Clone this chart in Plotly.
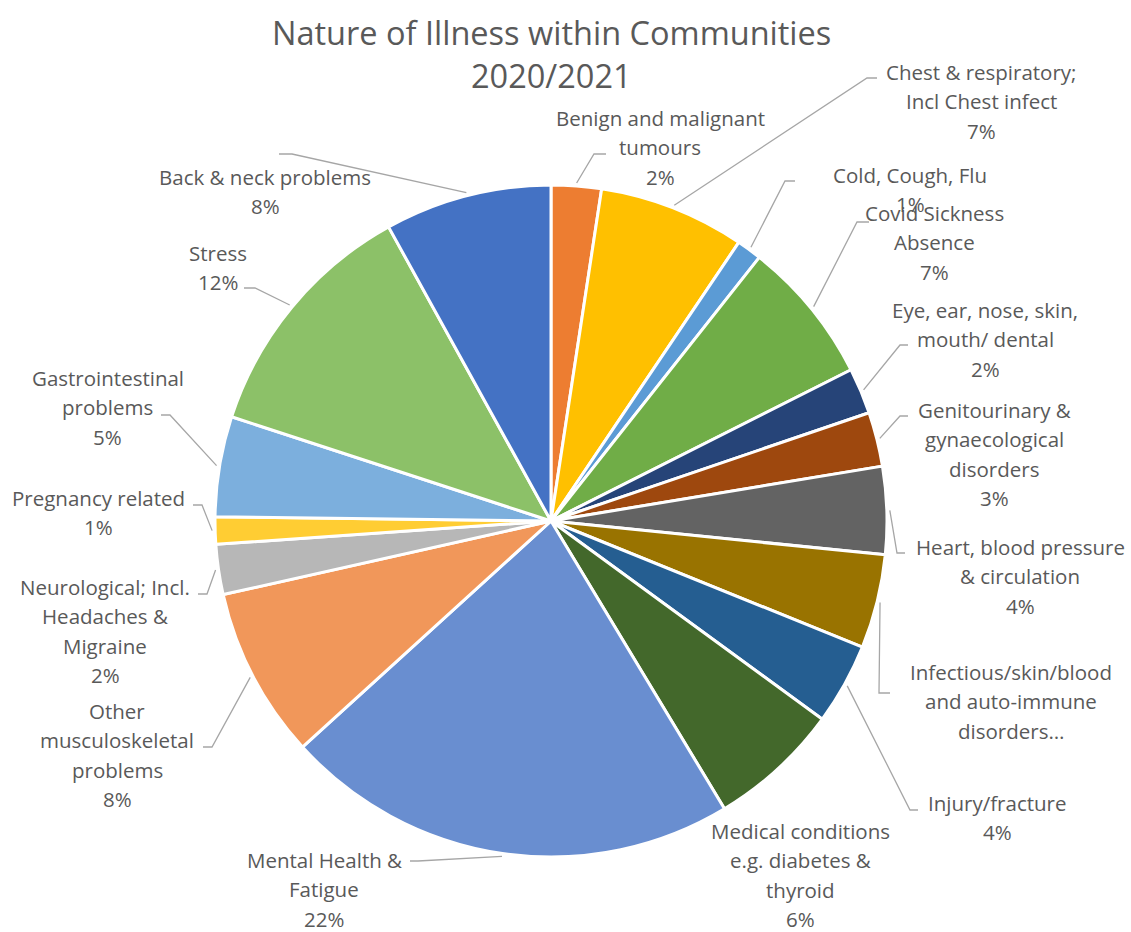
import math
import plotly.graph_objects as go

# ---------------- data ----------------
categories = [
    "Benign and malignant tumours",
    "Chest & respiratory; Incl Chest infect",
    "Cold, Cough, Flu",
    "Covid Sickness Absence",
    "Eye, ear, nose, skin, mouth/ dental",
    "Genitourinary & gynaecological disorders",
    "Heart, blood pressure & circulation",
    "Infectious/skin/blood and auto-immune disorders…",
    "Injury/fracture",
    "Medical conditions e.g. diabetes & thyroid",
    "Mental Health & Fatigue",
    "Other musculoskeletal problems",
    "Neurological; Incl. Headaches & Migraine",
    "Pregnancy related",
    "Gastrointestinal problems",
    "Stress",
    "Back & neck problems",
]
values = [2.4, 7.0, 1.2, 6.9, 2.2, 2.6, 4.2, 4.5, 3.9, 6.3, 21.8, 8.2, 2.4, 1.3, 4.8, 11.9, 8.0]
show_percent = [True, True, True, True, True, True, True, False, True, True, True, True, True, True, True, True, True]
label_lines = [
    ["Benign and malignant", "tumours"],
    ["Chest & respiratory;", "Incl Chest infect"],
    ["Cold, Cough, Flu"],
    ["Covid Sickness", "Absence"],
    ["Eye, ear, nose, skin,", "mouth/ dental"],
    ["Genitourinary &", "gynaecological", "disorders"],
    ["Heart, blood pressure", "& circulation"],
    ["Infectious/skin/blood", "and auto-immune", "disorders…"],
    ["Injury/fracture"],
    ["Medical conditions", "e.g. diabetes &", "thyroid"],
    ["Mental Health &", "Fatigue"],
    ["Other", "musculoskeletal", "problems"],
    ["Neurological; Incl.", "Headaches &", "Migraine"],
    ["Pregnancy related"],
    ["Gastrointestinal", "problems"],
    ["Stress"],
    ["Back & neck problems"],
]
title_lines = ["Nature of Illness within Communities", "2020/2021"]

# ---------------- styles ----------------
colors = [
    "#ED7D31", "#FFC000", "#5B9BD5", "#70AD47", "#264478", "#9E480E",
    "#636363", "#997300", "#255E91", "#43682B", "#698ED0", "#F1975A",
    "#B7B7B7", "#FFCD33", "#7CAFDD", "#8CC168", "#4472C4",
]
TEXT_COLOR = "#595959"
LINE_COLOR = "#A6A6A6"
FONT = "Open Sans"
LABEL_SIZE = 20.5
TITLE_SIZE = 32.5
LINE_STEP = 29.3

# ---------------- layout geometry (screen pixels) ----------------
FIG_W, FIG_H = 1131, 932
CX, CY, R = 551, 521, 336

# per label: text centre x, first line y, leader elbow point, horizontal end
label_pos = [
    (660, 118, (594, 154), (606, 154)),
    (981, 72, (867, 78), (877, 78)),
    (910, 175, (785, 181), (795, 181)),
    (934, 213, (857, 222), (869, 222)),
    (985, 310, (900, 345), (908, 345)),
    (994, 410, (900, 416), (908, 416)),
    (1020, 547, (897, 553), (905, 553)),
    (1011, 672, (879, 693), (890, 693)),
    (997, 803, (910, 810), (918, 810)),
    (800, 831, None, None),
    (324, 860, (418, 861), (410, 861)),
    (117, 711, (212, 747), (203, 747)),
    (105, 587, (207, 594), (198, 594)),
    (98, 498, (202, 505), (193, 505)),
    (108, 378, (170, 415), (161, 415)),
    (218, 253, (255, 288), (244, 288)),
    (265, 177, (292, 154), (279, 154)),
]


def px(x):
    return x / FIG_W


def py(y):
    return 1 - y / FIG_H


fig = go.Figure()
fig.add_trace(go.Pie(
    labels=categories,
    values=values,
    sort=False,
    direction="clockwise",
    rotation=0,
    textinfo="none",
    hoverinfo="label+percent",
    marker=dict(colors=colors, line=dict(color="white", width=3)),
    domain=dict(x=[px(CX - R), px(CX + R)], y=[py(CY + R), py(CY - R)]),
    showlegend=False,
))

total = sum(values)
annotations = []
shapes = []
cum = 0.0
for i, v in enumerate(values):
    mid = (cum + v / 2) / total * 2 * math.pi
    cum += v
    cx, y0, elbow, hend = label_pos[i]
    lines = list(label_lines[i])
    if show_percent[i]:
        lines.append(f"{round(v / total * 100)}%")
    for k, t in enumerate(lines):
        annotations.append(dict(
            x=px(cx), y=py(y0 + k * LINE_STEP), xref="paper", yref="paper",
            text=t, showarrow=False, xanchor="center", yanchor="middle",
            font=dict(family=FONT, size=LABEL_SIZE, color=TEXT_COLOR),
        ))
    if elbow is not None:
        sx = CX + (R + 3) * math.sin(mid)
        sy = CY - (R + 3) * math.cos(mid)
        path = (f"M {px(sx)},{py(sy)} L {px(elbow[0])},{py(elbow[1])} "
                f"L {px(hend[0])},{py(hend[1])}")
        shapes.append(dict(type="path", path=path, xref="paper", yref="paper",
                           line=dict(color=LINE_COLOR, width=1.3)))

for k, t in enumerate(title_lines):
    annotations.append(dict(
        x=px(551), y=py(33 + k * 42), xref="paper", yref="paper",
        text=t, showarrow=False, xanchor="center", yanchor="middle",
        font=dict(family=FONT, size=TITLE_SIZE, color=TEXT_COLOR),
    ))

fig.update_layout(
    width=FIG_W, height=FIG_H,
    margin=dict(l=0, r=0, t=0, b=0),
    paper_bgcolor="white", plot_bgcolor="white",
    annotations=annotations, shapes=shapes,
)

fig.write_html(
    "out.html",
    config={"displayModeBar": False},
    post_script="document.body.style.margin='0';document.body.style.overflow='hidden';",
)
